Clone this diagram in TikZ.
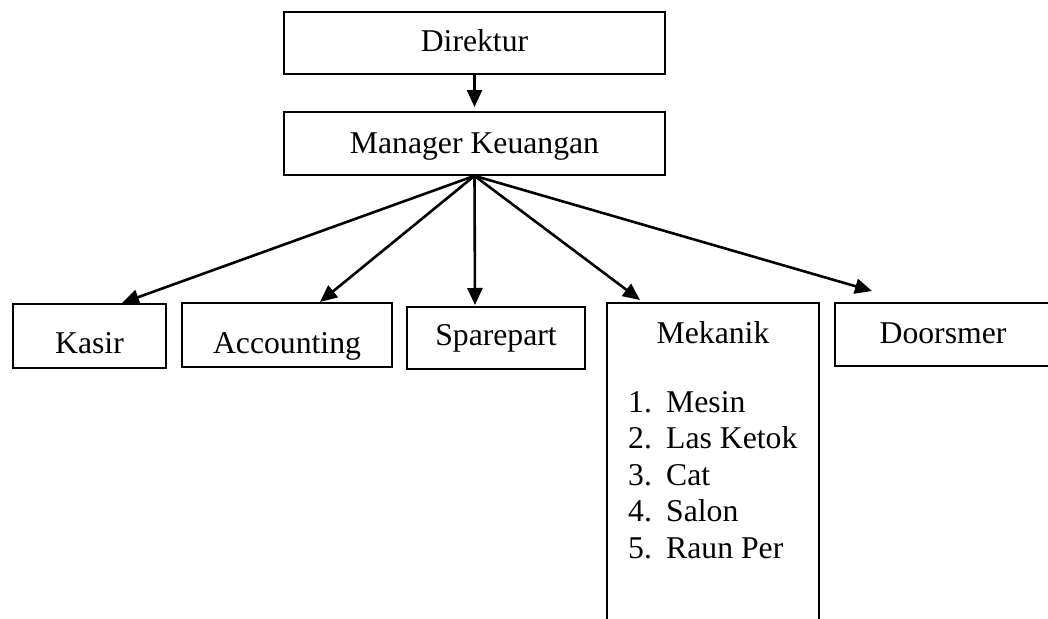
\documentclass[tikz,border=0pt]{standalone}
\usepackage{fontspec}
\setmainfont{Liberation Serif}
\usetikzlibrary{arrows.meta}
\begin{document}
\begin{tikzpicture}[x=1pt,y=-1pt,
  box/.style={draw, line width=1.7pt, inner sep=0pt},
  lbl/.style={inner sep=0pt, anchor=base, font=\fontsize{31.7}{36.6}\selectfont},
  lbll/.style={lbl, anchor=base west},
  conn/.style={line width=2.6pt, -{Triangle[length=17pt,width=15pt]}}]
\useasboundingbox (0,0) rectangle (1048,618);
\clip (0,0) rectangle (1048,618);
% boxes
\node[box, minimum width=381pt, minimum height=62pt] (dir) at (474.5,43) {};
\node[box, minimum width=381pt, minimum height=63pt] (mk) at (474.5,143.5) {};
\node[box, minimum width=153pt, minimum height=64pt] (kas) at (89.5,336) {};
\node[box, minimum width=210pt, minimum height=64pt] (acc) at (287,335) {};
\node[box, minimum width=178pt, minimum height=62pt] (spa) at (496,338) {};
\node[box, minimum width=212pt, minimum height=337pt] (mek) at (713,471.5) {};
\node[box, minimum width=216pt, minimum height=63pt] (doo) at (943,334.5) {};
% texts
\node[lbl] (tdir) at (474.5,52) {Direktur};
\node[lbl] (tmk) at (474.5,153) {Manager Keuangan};
\node[lbl] (tkas) at (89.5,353) {Kasir};
\node[lbl] (tacc) at (287,353) {Accounting};
\node[lbl] (tspa) at (496,345) {Sparepart};
\node[lbl] (tmek) at (713,343) {Mekanik};
\node[lbl] (tdoo) at (943,343) {Doorsmer};
\foreach \i/\t [count=\k] in {1/Mesin,2/Las Ketok,3/Cat,4/Salon,5/Raun Per}{
  \node[lbll] (num\k) at (628,{412+36.6*(\k-1)}) {\i.};
  \node[lbll] (item\k) at (666,{412+36.6*(\k-1)}) {\t};
}
% connector end points
\coordinate (eMk) at (474.5,107);
\coordinate (eKas) at (122,303);
\coordinate (eAcc) at (320,302);
\coordinate (eSpa) at (475,305);
\coordinate (eMek) at (640,300);
\coordinate (eDoo) at (872,291);
% connectors
\draw[conn] (dir.south) -- (eMk);
\foreach \e in {eKas,eAcc,eSpa,eMek,eDoo}
  \draw[conn] (mk.south) -- (\e);
\end{tikzpicture}
\end{document}
